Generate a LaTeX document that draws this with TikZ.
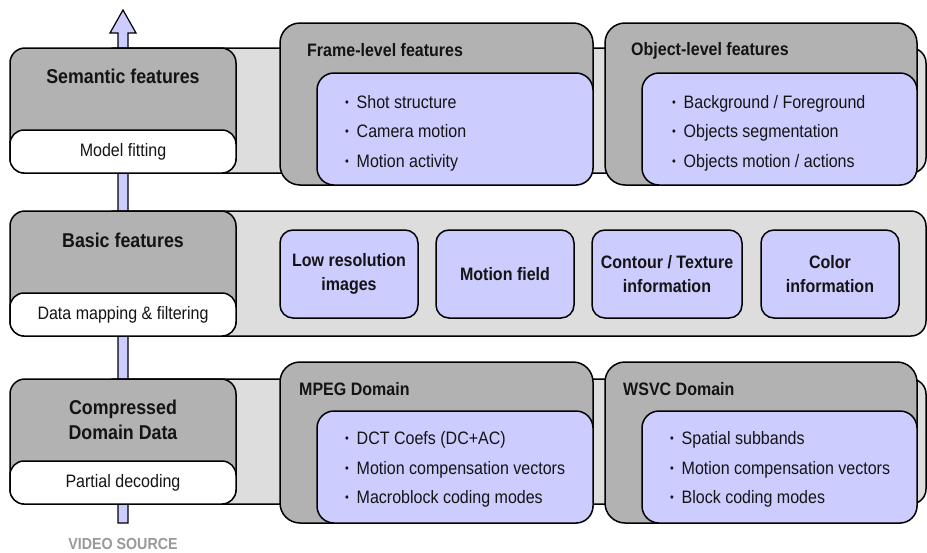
\documentclass[tikz,border=0pt]{standalone}
\usepackage{fontspec}
\setmainfont[FakeStretch=0.89]{Liberation Sans}
\newcommand{\bul}{\makebox[11.5pt][l]{\raisebox{0.22ex}{\fontsize{12}{12}\selectfont •}}}
\definecolor{dgray}{HTML}{B2B2B2}
\definecolor{lgray}{HTML}{DDDDDD}
\definecolor{lav}{HTML}{CCCCFF}
\definecolor{srcgray}{HTML}{999999}
\definecolor{ink}{HTML}{141414}
\tikzset{
  box/.style={draw=black, line width=1.5pt, rectangle, inner sep=0pt, outer sep=0pt},
  band/.style={box, fill=lgray, rounded corners=15pt},
  lbox/.style={box, fill=dgray, rounded corners=15pt, minimum width=226pt, minimum height=125pt},
  wbox/.style={box, fill=white, rounded corners=14pt, minimum width=226pt, minimum height=43pt},
  obox/.style={box, fill=dgray, rounded corners=20pt, minimum height=162pt},
  ibox/.style={box, fill=lav, rounded corners=17pt, minimum height=112pt},
  sbox/.style={box, fill=lav, rounded corners=13pt, minimum height=88pt, align=center,
     text=ink, font=\fontsize{18}{23.5}\selectfont\bfseries},
  lhead/.style={font=\fontsize{20}{25.5}\selectfont\bfseries, text=ink, align=center, inner sep=0pt},
  sub/.style={font=\fontsize{18}{20}\selectfont, text=ink, inner sep=0pt},
  otitle/.style={font=\fontsize{18}{20}\selectfont\bfseries, text=ink, anchor=west, inner sep=0pt},
  blist/.style={font=\fontsize{18}{29.5}\selectfont, text=ink, align=left, anchor=west, inner sep=0pt},
}
\begin{document}
\begin{tikzpicture}[x=1pt, y=-1pt]
\useasboundingbox (0,0) rectangle (927,552);
% arrow
\draw[line width=1.2pt, fill=lav] (118,523) -- (118,33) -- (110,33) -- (123,10) -- (136,33) -- (128,33) -- (128,523) -- cycle;
% bands
\node[band, minimum width=826pt, minimum height=125pt] (band1) at (513,110.5) {};
\node[band, minimum width=826pt, minimum height=125pt] (band2) at (513,273.5) {};
\node[band, minimum width=826pt, minimum height=125pt] (band3) at (513,441.5) {};
% left boxes
\node[lbox] (sem) at (123,110.5) {};
\node[wbox] (semsub) at (123,151.5) {};
\node[lhead] (semt) at (123,76) {Semantic features};
\node[sub] (semst) at (semsub) {Model fitting};

\node[lbox] (bas) at (123,273.5) {};
\node[wbox] (bassub) at (123,314.5) {};
\node[lhead] (bast) at (123,240) {Basic features};
\node[sub] (basst) at (bassub) {Data mapping \& filtering};

\node[lbox] (cmp) at (123,441.5) {};
\node[wbox] (cmpsub) at (123,482.5) {};
\node[lhead] (cmpt) at (123,420) {Compressed\\Domain Data};
\node[sub] (cmpst) at (cmpsub) {Partial decoding};

% top row
\node[obox, minimum width=313pt] (frame) at (436.5,104) {};
\node[ibox, minimum width=276pt] (framei) at (455,129) {};
\node[otitle] (framet) at (307,50.5) {Frame-level features};
\node[blist] (framel) at (345,133) {\bul Shot structure\\\bul Camera motion\\\bul Motion activity};

\node[obox, minimum width=312pt] (obj) at (761,104) {};
\node[ibox, minimum width=275pt] (obji) at (779.5,129) {};
\node[otitle] (objt) at (631,50.5) {Object-level features};
\node[blist] (objl) at (672,133) {\bul Background / Foreground\\\bul Objects segmentation\\\bul Objects motion / actions};

% middle row
\node[sbox, minimum width=138pt] (lowres) at (349,274) {Low resolution\\images};
\node[sbox, minimum width=138pt] (motion) at (505,274) {Motion field};
\node[sbox, minimum width=150pt] (contour) at (667,274) {Contour / Texture\\information};
\node[sbox, minimum width=138pt] (color) at (830,274) {Color\\information};

% bottom row
\node[obox, minimum width=313pt, minimum height=161pt] (mpeg) at (436.5,442.5) {};
\node[ibox, minimum width=276pt] (mpegi) at (455,467) {};
\node[otitle] (mpegt) at (299,389) {MPEG Domain};
\node[blist] (mpegl) at (345,469.5) {\bul DCT Coefs (DC+AC)\\\bul Motion compensation vectors\\\bul Macroblock coding modes};

\node[obox, minimum width=312pt, minimum height=161pt] (wsvc) at (761,442.5) {};
\node[ibox, minimum width=275pt] (wsvci) at (779.5,467) {};
\node[otitle] (wsvct) at (623,389) {WSVC Domain};
\node[blist] (wsvcl) at (670,469.5) {\bul Spatial subbands\\\bul Motion compensation vectors\\\bul Block coding modes};

% source label
\node[font=\fontsize{16}{18}\selectfont\bfseries, text=srcgray, inner sep=0pt] (src) at (123,544) {VIDEO SOURCE};
\end{tikzpicture}
\end{document}
